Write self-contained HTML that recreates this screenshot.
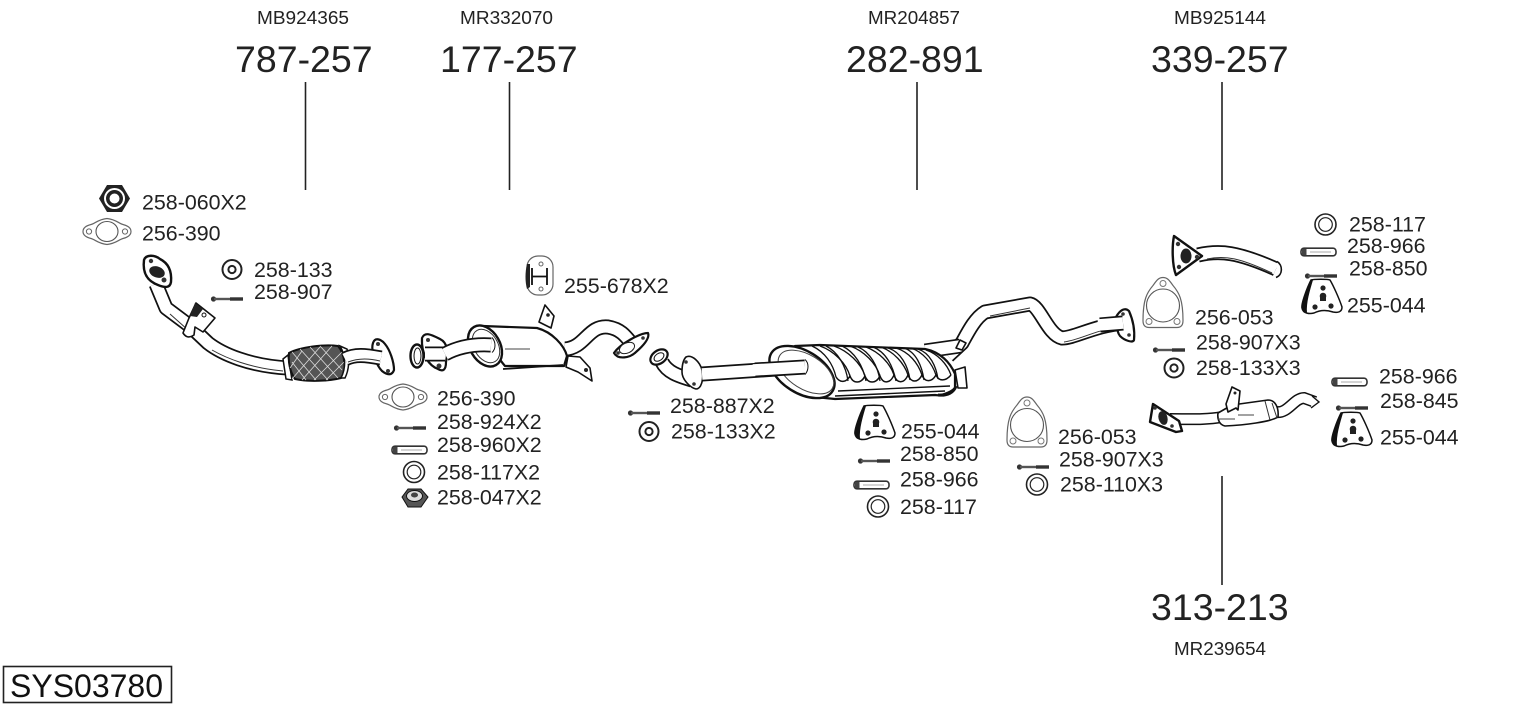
<!DOCTYPE html>
<html><head><meta charset="utf-8"><style>
html,body{margin:0;padding:0;background:#fff;width:1530px;height:711px;overflow:hidden}
svg{display:block}
text{font-family:"Liberation Sans",sans-serif;fill:#222}
.m{font-size:21.4px}.l{font-size:37.5px}.s{font-size:18px}
.o{fill:none;stroke:#111;stroke-width:1.6;stroke-linejoin:round;stroke-linecap:round}
.w{fill:#fff;stroke:#111;stroke-width:1.6;stroke-linejoin:round}
.t{fill:#fff;stroke:#666;stroke-width:1.2}
.pb{fill:none;stroke:#111;stroke-width:15;stroke-linecap:butt;stroke-linejoin:round}
.pw{fill:none;stroke:#fff;stroke-width:11.5;stroke-linecap:butt;stroke-linejoin:round}
.pc{fill:none;stroke:#333;stroke-width:1}
</style></head><body>
<svg width="1530" height="711" viewBox="0 0 1530 711" xmlns="http://www.w3.org/2000/svg">
<defs>
<g id="bolt"><circle cx="2.5" cy="0" r="2.6" fill="#333"/><rect x="3" y="-1.2" width="16" height="2.4" fill="#555"/><rect x="19" y="-1.7" width="13" height="3.4" fill="#333"/></g>
<g id="dowel"><rect x="0" y="-3.8" width="35" height="7.6" rx="3" fill="#fff" stroke="#333" stroke-width="1.6"/><rect x="1" y="-3" width="4.500" height="6" fill="#444"/><path d="M9 0H30" stroke="#aaa"/></g>
<g id="was1"><circle r="9.5" fill="#fff" stroke="#222" stroke-width="2"/><circle r="3.6" fill="#fff" stroke="#222" stroke-width="2"/></g>
<g id="was2"><circle r="10.5" fill="#fff" stroke="#222" stroke-width="1.6"/><circle r="6.8" fill="#fff" stroke="#222" stroke-width="1.2"/></g>
<g id="gk2"><path class="t" d="M-24 0C-24 -4 -20 -6 -16 -7C-12 -8 -9 -12 0 -13C9 -12 12 -8 16 -7C20 -6 24 -4 24 0C24 4 20 6 16 7C12 8 9 12 0 13C-9 12 -12 8 -16 7C-20 6 -24 4 -24 0Z"/><ellipse rx="11" ry="10" fill="#fff" stroke="#555" stroke-width="1.100"/><circle cx="-18" r="2.6" fill="#fff" stroke="#666"/><circle cx="18" r="2.6" fill="#fff" stroke="#666"/></g>
<g id="gk3"><path class="t" d="M0 -28C5 -28 7 -24 10 -20C16 -13 20 -6 20 15C20 20 18 22 14 22H-14C-18 22 -20 20 -20 15C-20 -6 -16 -13 -10 -20C-7 -24 -5 -28 0 -28Z"/><circle cx="0" cy="0" r="16.5" fill="#fff" stroke="#555" stroke-width="1.100"/><circle cx="0" cy="-22" r="3" fill="#fff" stroke="#777"/><circle cx="-14" cy="16" r="3" fill="#fff" stroke="#777"/><circle cx="14" cy="16" r="3" fill="#fff" stroke="#777"/></g>
<g id="hang"><path d="M-11 -20C-8 -21 6 -21 8 -20C11 -15 17 -2 20 7C20 12 16 13 11 12C5 10 -2 10 -8 13C-12 14 -19 14 -20 8C-21 4 -15 -12 -11 -20Z" fill="#fff" stroke="#111" stroke-width="1.5"/><path d="M-11 -20C-15 -12 -21 3 -20 8C-19 11 -17 13 -15 13C-16 3 -12 -10 -9 -20Z" fill="#111"/><circle cx="1" cy="-12" r="2.600" fill="#222"/><circle cx="1" cy="-4" r="3.300" fill="#222"/><rect x="-2" y="-4" width="6" height="5" fill="#222"/><circle cx="-7" cy="7" r="2.600" fill="#222"/><circle cx="9" cy="6" r="2.600" fill="#222"/></g>
</defs>
<rect width="1530" height="711" fill="#fff"/>

<!-- leaders -->
<g stroke="#222" stroke-width="1.6">
<line x1="305.5" y1="82" x2="305.5" y2="190"/>
<line x1="509.5" y1="82" x2="509.5" y2="190"/>
<line x1="917" y1="82" x2="917" y2="190"/>
<line x1="1222" y1="82" x2="1222" y2="190"/>
<line x1="1222" y1="476" x2="1222" y2="585"/>
</g>

<!-- small hardware, left -->
<path d="M107 185H122L130 198.500L122 212H107L99 198.500Z" fill="#222"/><circle cx="114.500" cy="198.500" r="10.500" fill="#fff"/><circle cx="114.500" cy="198.500" r="8.500" fill="#222"/><circle cx="114.500" cy="198.500" r="5" fill="#fff"/>
<use href="#gk2" x="107" y="231.500"/>
<use href="#was1" x="232" y="269.500"/>
<use href="#bolt" x="211" y="299"/>
<use href="#gk2" x="403" y="397"/>
<use href="#bolt" x="394" y="428"/>
<use href="#dowel" x="392" y="450"/>
<use href="#was2" x="414" y="472"/>
<path d="M402 497L408 489H421L428 497L421 507H408Z" fill="#555" stroke="#111"/><ellipse cx="414.500" cy="496" rx="8" ry="5.500" fill="#ddd" stroke="#111"/><ellipse cx="414.500" cy="495" rx="3.500" ry="2.500" fill="#444"/>
<use href="#bolt" x="628" y="413"/>
<use href="#was1" x="649" y="431.500"/>

<!-- 255-678 hanger -->
<rect x="527" y="256" width="26" height="39" rx="11" fill="#fff" stroke="#666" stroke-width="1.200"/>
<path d="M527 264C525 272 525 282 527 289L530 287V264Z" fill="#222"/>
<path d="M532 268V285M547 268V285M532 276.500H547" stroke="#111" stroke-width="1.800" fill="none"/>
<circle cx="541" cy="264" r="2" fill="#fff" stroke="#666"/><circle cx="541" cy="289" r="2" fill="#fff" stroke="#666"/>

<!-- front pipe 787-257 -->
<path class="pb" d="M156 284L166 308L190 326L208 343C222 354 250 366 288 368"/>
<path class="pw" d="M156 284L166 308L190 326L208 343C222 354 250 366 288 368"/>
<path class="pc" d="M170 314L188 330M212 350C226 358 250 368 283 371"/>
<path class="w" style="stroke-width:2.400" d="M144 260C146 254 155 255 160 259C168 263 172 270 171 282C170 288 165 288 158 285C150 282 142 276 144 260Z"/>
<ellipse cx="157" cy="272" rx="8" ry="5.500" fill="#222" transform="rotate(20 157 272)"/>
<circle cx="151" cy="261" r="2.200" fill="#333"/><circle cx="164" cy="280" r="2.500" fill="#333"/>
<path class="w" d="M189 318L196 303L215 318L203 332L195 327L194 335C188 339 185 336 183 333Z"/>
<path d="M190 316L195 303L203 309L197 317Z" fill="#222"/><circle cx="204" cy="315" r="2" fill="#fff" stroke="#111"/>
<path d="M283 359L288 355L292 380L286 379Z" fill="#fff" stroke="#111" stroke-width="1.500"/>
<path d="M289 353C300 347 325 344 338 346C345 354 347 372 341 378C330 381 308 382 295 379C290 372 288 362 289 353Z" fill="#555" stroke="#111" stroke-width="2"/>
<g stroke="#ddd" stroke-width=".8" fill="none"><path d="M292 352L316 380M300 349L328 380M310 347L338 378M320 346L342 370M292 362L306 380M292 379L320 347M302 380L332 346M314 380L342 352M326 380L344 362M290 368L302 351"/></g>
<path d="M340 346L347 349C350 358 349 370 345 378L341 378C346 368 346 356 340 346Z" fill="#fff" stroke="#111" stroke-width="1.500"/>
<path class="w" style="stroke-width:2.200" d="M373 343C375 337 381 339 385 344C390 350 394 362 394 370C392 376 387 375 382 371C378 367 370 352 373 343Z"/>
<circle cx="378" cy="344" r="2" fill="#333"/><circle cx="388" cy="371" r="2" fill="#333"/>
<path class="pb" d="M345 359C355 354 365 355 381 358"/><path class="pw" d="M345 359C355 354 365 355 381 358"/>
<path class="pc" d="M348 362C358 358 368 358 380 361"/>

<!-- pipe 177-257 -->
<path class="w" style="stroke-width:2.200" d="M422 338C425 331 432 335 440 339C448 343 448 352 446 362C446 370 443 372 438 369C430 366 421 356 422 338Z"/>
<circle cx="428" cy="340" r="2" fill="#333"/><circle cx="439" cy="366" r="2.500" fill="#333"/>
<path class="pb" d="M425 354H445"/><path class="pw" d="M425 354H445"/>
<ellipse cx="417" cy="356" rx="6.500" ry="11.500" fill="#fff" stroke="#111" stroke-width="2.400"/>
<ellipse cx="417.500" cy="356" rx="3.500" ry="8" fill="#fff" stroke="#111"/>
<!-- muffler 2 -->
<path class="pb" d="M565 349C585 348 588 325 608 327C620 329 625 335 632 344"/>
<path class="pw" d="M565 349C585 348 588 325 608 327C620 329 625 335 632 344"/>
<path class="w" d="M539 322L545 305L554 316L551 328Z"/><circle cx="548" cy="315" r="1.800" fill="#222"/>
<path class="w" d="M568 356L580 357L590 368L592 381L578 372L566 367Z"/><circle cx="586" cy="370" r="2" fill="#222"/>
<path class="w" style="stroke-width:2.200" d="M483 326L537 328C552 332 564 345 567 356L564 366L505 366C493 352 490 340 483 326Z"/>
<path d="M503 369L563 365" stroke="#111" stroke-width="1.800"/>
<ellipse cx="485" cy="346" rx="15" ry="22" fill="#fff" stroke="#111" stroke-width="2.400" transform="rotate(-30 485 346)"/>
<ellipse cx="486" cy="346" rx="12" ry="18" fill="none" stroke="#333" stroke-width="1" transform="rotate(-30 486 346)"/>
<path class="pb" d="M445 354C460 346 475 344 491 345"/><path class="pw" d="M445 354C460 346 475 344 491 345"/>
<path d="M492 337.500C496 342 496 349 492 352.500" fill="#fff" stroke="#111"/>
<path d="M505 349H530" stroke="#444"/>
<path class="w" style="stroke-width:2.200" d="M614 353C620 344 640 333 648 333C650 338 644 345 636 352C630 358 618 360 614 353Z"/>
<ellipse cx="627" cy="348" rx="8" ry="5" fill="#fff" stroke="#222" transform="rotate(-25 627 348)"/>
<circle cx="643" cy="338" r="1.800" fill="#333"/><circle cx="618" cy="353" r="1.800" fill="#333"/>

<!-- inlet to main muffler -->
<path class="pb" d="M662 362C667 372 678 376 692 380"/><path class="pw" d="M662 362C667 372 678 376 692 380"/>
<ellipse cx="659" cy="357" rx="9.500" ry="6.500" fill="#fff" stroke="#111" stroke-width="2.200" transform="rotate(-35 659 357)"/>
<ellipse cx="659" cy="357" rx="5.500" ry="3.500" fill="#fff" stroke="#111" transform="rotate(-35 659 357)"/>
<path class="w" d="M686 357C692 354 700 362 702 370C704 380 701 389 696 389C691 388 682 380 682 372C682 365 683 360 686 357Z"/>
<circle cx="686" cy="362" r="1.800" fill="#333"/><circle cx="694" cy="384" r="1.800" fill="#333"/>
<path class="pb" d="M702 374L805 367"/><path class="pw" d="M702 374L805 367"/>

<!-- rear pipe to 282-891 -->
<path class="pb" d="M948 356L962 343C968 332 975 318 985 312L1030 304C1040 306 1048 335 1062 338C1075 338 1095 325 1125 323"/>
<path class="pw" d="M948 356L962 343C968 332 975 318 985 312L1030 304C1040 306 1048 335 1062 338C1075 338 1095 325 1125 323"/>
<path class="pc" d="M990 316L1030 308M1064 342C1080 340 1095 330 1120 327"/>
<path class="w" style="stroke-width:2.200" d="M1116 317C1120 310 1125 307 1129 311C1133 320 1135 330 1134 340C1133 343 1125 341 1120 336C1116 331 1118 325 1116 317Z"/>
<circle cx="1123" cy="314" r="1.800" fill="#333"/><circle cx="1129" cy="335" r="1.800" fill="#333"/>
<path class="pb" d="M1100 325L1123 323"/><path class="pw" d="M1098 325L1123 323"/>
<path class="pb" d="M925 351L960 346"/><path class="pw" d="M925 351L960 346"/>
<path class="w" d="M960 340L966 343L962 350L956 348Z"/>
<path class="w" d="M955 370L965 367L967 388L958 388Z"/>
<!-- main muffler -->
<path class="w" style="stroke-width:2.200" d="M795 346L820 345L925 349C940 352 950 362 955 374L955 388C950 393 940 396 935 395L835 399L805 396Z"/>
<path d="M838 391L950 386" stroke="#111" stroke-width="1.400"/>
<path d="M835 396L945 391" stroke="#111" stroke-width="1.400"/>
<path d="M836 377C840 383 846 383 850 376C853 384 861 384 865 376C868 384 876 384 880 376C883 384 890 384 894 375C897 384 904 384 908 375C911 383 918 383 922 375C925 383 932 382 936 375C939 382 946 381 951 375" fill="none" stroke="#111" stroke-width="1.500"/>
<g fill="none" stroke="#111" stroke-width="1.300">
<path d="M812 346C825 352 833 364 836 377"/><path d="M820 346C834 351 846 363 850 376"/>
<path d="M834 346C848 351 861 363 865 376"/><path d="M850 346C864 351 876 363 880 376"/>
<path d="M866 347C879 352 890 363 894 375"/><path d="M881 347C894 352 904 363 908 375"/>
<path d="M896 348C909 352 918 363 922 375"/><path d="M911 348C923 352 932 363 936 375"/>
<path d="M926 350C938 354 947 364 951 375"/>
<path d="M826 346C838 352 846 366 848 381"/><path d="M842 346C855 352 863 366 866 381"/>
<path d="M858 347C870 352 878 366 880 381"/><path d="M873 347C886 352 893 366 896 381"/>
<path d="M888 348C901 352 908 366 910 380"/><path d="M904 348C916 352 922 366 924 380"/><path d="M918 349C930 353 936 366 938 379"/>
</g>
<ellipse cx="802" cy="372" rx="36" ry="21" fill="#fff" stroke="#111" stroke-width="2.400" transform="rotate(32 802 372)"/>
<ellipse cx="806" cy="372" rx="31" ry="17" fill="none" stroke="#444" stroke-width="1" transform="rotate(32 806 372)"/>
<path d="M938 395C948 396 954 392 956 386" fill="none" stroke="#111" stroke-width="3"/>
<path class="pb" d="M755 370L805 367"/><path class="pw" d="M753 370L805 367"/>
<path d="M805 359.500C809 363 809 370 805 374.500" fill="#fff" stroke="#111"/>

<!-- hardware centre -->
<use href="#hang" x="875" y="426"/>
<use href="#bolt" x="858" y="461"/>
<use href="#dowel" x="854" y="485"/>
<use href="#was2" x="878" y="506.500"/>
<use href="#gk3" x="1027" y="425"/>
<use href="#bolt" x="1017" y="467"/>
<use href="#was2" x="1037" y="484.500"/>

<!-- tail 339-257 -->
<path d="M1198 255C1220 250 1238 252 1276 269" fill="none" stroke="#111" stroke-width="15" stroke-linejoin="round"/>
<path d="M1198 255C1220 250 1238 252 1276 269" fill="none" stroke="#fff" stroke-width="11.500"/>
<path d="M1207 259C1225 255 1240 258 1272 273" fill="none" stroke="#333" stroke-width="1"/>
<path d="M1277 261.500C1283 265 1283 275 1276 277.500" fill="#fff" stroke="#111" stroke-width="1.600"/>
<path class="w" style="stroke-width:2.400" d="M1174 236L1202 256L1176 275C1172 265 1172 246 1174 236Z"/>
<ellipse cx="1186" cy="256" rx="5.500" ry="7.500" fill="#222"/>
<circle cx="1178" cy="244" r="2.200" fill="#333"/><circle cx="1197" cy="257" r="2.200" fill="#333"/><circle cx="1179" cy="267" r="2.200" fill="#333"/>
<use href="#was2" x="1325.500" y="224.500"/>
<use href="#dowel" x="1301" y="252"/>
<use href="#bolt" x="1305" y="276"/>
<use href="#hang" x="1322" y="300"/>
<use href="#gk3" x="1163" y="305.500"/>
<use href="#bolt" x="1153" y="350"/>
<use href="#was1" x="1174" y="368"/>

<!-- pipe 313-213 -->
<path d="M1276 412C1288 414 1294 398 1304 398L1315 402" fill="none" stroke="#111" stroke-width="12"/>
<path d="M1276 412C1288 414 1294 398 1304 398L1315 402" fill="none" stroke="#fff" stroke-width="9"/>
<path d="M1312 396L1319 402L1311 408" fill="#fff" stroke="#111" stroke-width="1.400"/>
<path d="M1170 419C1190 419 1205 420 1222 417" fill="none" stroke="#111" stroke-width="12"/>
<path d="M1170 419C1190 419 1205 420 1222 417" fill="none" stroke="#fff" stroke-width="9"/>
<path class="w" stroke-width="1.800" d="M1218 413L1232 405L1268 400C1275 400 1279 407 1278 417C1270 422 1245 425 1225 426C1220 425 1217 420 1218 413Z"/>
<path d="M1265 401L1270 420M1272 403L1277 418" stroke="#333" fill="none"/>
<path d="M1218 419L1235 419M1238 415H1254" stroke="#444"/>
<path class="w" d="M1226 404L1232 387L1240 391L1238 410L1236 408L1228 412Z"/>
<circle cx="1235" cy="393" r="1.500" fill="#222"/>
<path class="w" style="stroke-width:2.400" d="M1153 404L1179 421L1182 431L1176 432L1150 422Z"/>
<ellipse cx="1163" cy="418" rx="4.500" ry="7" fill="#222" transform="rotate(-15 1163 418)"/>
<circle cx="1155" cy="408" r="1.800" fill="#333"/><circle cx="1172" cy="426" r="1.800" fill="#333"/>
<use href="#dowel" x="1332" y="382"/>
<use href="#bolt" x="1336" y="408"/>
<use href="#hang" x="1352" y="433"/>

<!-- part numbers -->
<text class="s" x="257" y="24" textLength="92" lengthAdjust="spacingAndGlyphs">MB924365</text>
<text class="s" x="460" y="24" textLength="93" lengthAdjust="spacingAndGlyphs">MR332070</text>
<text class="s" x="868" y="24" textLength="92" lengthAdjust="spacingAndGlyphs">MR204857</text>
<text class="s" x="1174" y="24" textLength="92" lengthAdjust="spacingAndGlyphs">MB925144</text>
<text class="s" x="1174" y="655" textLength="92" lengthAdjust="spacingAndGlyphs">MR239654</text>
<text class="l" x="235" y="72">787-257</text>
<text class="l" x="440" y="72">177-257</text>
<text class="l" x="846" y="72">282-891</text>
<text class="l" x="1151" y="72">339-257</text>
<text class="l" x="1151" y="620">313-213</text>

<text class="m" x="142" y="209.500">258-060X2</text>
<text class="m" x="142" y="240.500">256-390</text>
<text class="m" x="254" y="277">258-133</text>
<text class="m" x="254" y="299">258-907</text>
<text class="m" x="564" y="293">255-678X2</text>
<text class="m" x="437" y="405.500">256-390</text>
<text class="m" x="437" y="429">258-924X2</text>
<text class="m" x="437" y="452">258-960X2</text>
<text class="m" x="437" y="479.500">258-117X2</text>
<text class="m" x="437" y="504.500">258-047X2</text>
<text class="m" x="670" y="413">258-887X2</text>
<text class="m" x="671" y="438.500">258-133X2</text>
<text class="m" x="901" y="438.500">255-044</text>
<text class="m" x="900" y="461">258-850</text>
<text class="m" x="900" y="486.500">258-966</text>
<text class="m" x="900" y="514">258-117</text>
<text class="m" x="1058" y="444">256-053</text>
<text class="m" x="1059" y="466.500">258-907X3</text>
<text class="m" x="1060" y="491.500">258-110X3</text>
<text class="m" x="1349" y="231.500">258-117</text>
<text class="m" x="1347" y="253">258-966</text>
<text class="m" x="1349" y="275.500">258-850</text>
<text class="m" x="1347" y="312.500">255-044</text>
<text class="m" x="1195" y="324.500">256-053</text>
<text class="m" x="1196" y="349.500">258-907X3</text>
<text class="m" x="1196" y="375">258-133X3</text>
<text class="m" x="1379" y="383.500">258-966</text>
<text class="m" x="1380" y="408">258-845</text>
<text class="m" x="1380" y="444.500">255-044</text>

<!-- id box -->
<rect x="3.500" y="666.500" width="168" height="36" fill="#fff" stroke="#222" stroke-width="1.600"/>
<text x="10" y="697" style="font-size:32px;fill:#111">SYS03780</text>
</svg>
</body></html>
